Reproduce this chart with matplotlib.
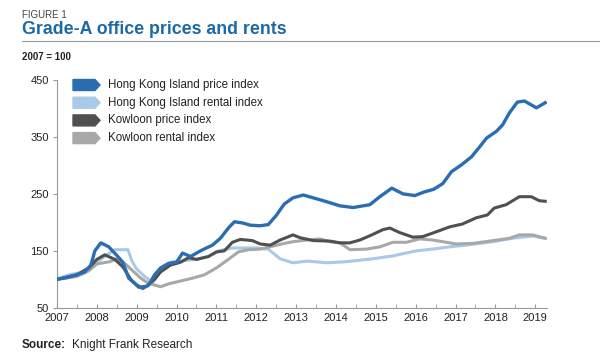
import matplotlib
matplotlib.use('Agg')
import matplotlib.pyplot as plt
from matplotlib.patches import Polygon
from matplotlib.ticker import MultipleLocator

plt.rcParams['font.family'] = ['Liberation Sans', 'DejaVu Sans']

# values (decimal year, index 2007 = 100)
hk_price_x = [2007.0, 2007.25, 2007.5, 2007.7, 2007.85, 2007.95, 2008.1, 2008.3, 2008.5, 2008.65,
              2008.8, 2009.0, 2009.15, 2009.3, 2009.45, 2009.6, 2009.8, 2010.0, 2010.15, 2010.35,
              2010.6, 2010.9, 2011.1, 2011.3, 2011.45, 2011.65, 2011.85, 2012.1, 2012.3, 2012.5,
              2012.7, 2012.92, 2013.18, 2013.43, 2013.68, 2014.1, 2014.43, 2014.85, 2015.1, 2015.4,
              2015.68, 2015.98, 2016.2, 2016.45, 2016.68, 2016.9, 2017.15, 2017.4, 2017.6, 2017.78,
              2018.03, 2018.18, 2018.35, 2018.55, 2018.73, 2019.03, 2019.25]
hk_price = [100, 103, 108, 113, 125, 150, 164, 157, 142, 130,
            102, 90, 84, 90, 108, 120, 128, 130, 146, 140,
            150, 160, 172, 190, 201, 199, 195, 194, 196, 212,
            232, 243, 248, 243, 238, 229, 226, 231, 245, 260,
            250, 247, 253, 258, 268, 289, 301, 315, 332, 348,
            360, 371, 392, 411, 413, 401, 410]

hk_rent_x = [2007.0, 2007.3, 2007.6, 2007.9, 2008.1, 2008.3, 2008.45, 2008.78, 2008.88, 2009.0,
             2009.2, 2009.4, 2009.6, 2009.85, 2010.2, 2010.5, 2010.8, 2011.05, 2011.4, 2011.7,
             2012.0, 2012.3, 2012.6, 2012.92, 2013.28, 2013.77, 2014.27, 2014.92, 2015.42, 2016.02,
             2016.42, 2016.85, 2017.27, 2017.93, 2018.43, 2018.93, 2019.25]
hk_rent = [100, 108, 112, 125, 135, 145, 152, 152, 132, 118,
           105, 95, 115, 130, 133, 135, 140, 150, 155, 155,
           155, 153, 136, 129, 132, 129, 131, 136, 141, 150,
           153, 157, 160, 166, 172, 176, 172]

kln_price_x = [2007.0, 2007.5, 2007.8, 2008.0, 2008.2, 2008.45, 2008.65, 2008.85, 2009.05, 2009.25,
               2009.45, 2009.6, 2009.85, 2010.1, 2010.3, 2010.5, 2010.8, 2011.0, 2011.2, 2011.4,
               2011.6, 2011.9, 2012.1, 2012.35, 2012.6, 2012.92, 2013.1, 2013.43, 2013.85, 2014.1,
               2014.35, 2014.6, 2014.9, 2015.17, 2015.35, 2015.6, 2015.93, 2016.18, 2016.5, 2016.85,
               2017.17, 2017.52, 2017.8, 2017.97, 2018.27, 2018.6, 2018.9, 2019.1, 2019.25]
kln_price = [100, 108, 120, 135, 143, 135, 122, 100, 86, 88,
             100, 113, 125, 130, 138, 135, 140, 148, 150, 165,
             170, 168, 162, 160, 169, 178, 173, 168, 167, 164,
             164, 169, 178, 187, 190, 182, 174, 175, 183, 192,
             197, 208, 213, 225, 231, 245, 245, 238, 237]

kln_rent_x = [2007.0, 2007.5, 2007.8, 2008.0, 2008.33, 2008.5, 2008.7, 2008.9, 2009.1, 2009.3,
              2009.6, 2009.8, 2010.1, 2010.4, 2010.7, 2011.0, 2011.3, 2011.55, 2011.8, 2012.1,
              2012.4, 2012.7, 2012.92, 2013.27, 2013.6, 2013.85, 2014.1, 2014.35, 2014.77, 2015.1,
              2015.43, 2015.77, 2016.1, 2016.42, 2016.77, 2017.02, 2017.43, 2017.85, 2018.35, 2018.6,
              2018.93, 2019.25]
kln_rent = [100, 105, 115, 127, 131, 136, 128, 115, 102, 93,
            87, 92, 97, 102, 108, 120, 135, 148, 152, 153,
            158, 163, 166, 169, 171, 166, 164, 152, 153, 157,
            165, 165, 171, 169, 165, 162, 163, 167, 172, 178,
            178, 172]

labels = ['Hong Kong Island price index', 'Hong Kong Island rental index',
          'Kowloon price index', 'Kowloon rental index']
colors = ['#2a6db3', '#a9c9e8', '#505050', '#a8a8a8']

fig = plt.figure(figsize=(6, 3.6), dpi=100)
ax = fig.add_axes([0.095, 0.145, 0.817, 0.633])

ax.plot(hk_rent_x, hk_rent, color=colors[1], lw=2.2, zorder=2)
ax.plot(kln_rent_x, kln_rent, color=colors[3], lw=2.2, zorder=3)
ax.plot(kln_price_x, kln_price, color=colors[2], lw=2.2, zorder=4)
ax.plot(hk_price_x, hk_price, color=colors[0], lw=2.4, zorder=5)

ax.set_xlim(2007, 2019.3)
ax.set_ylim(50, 450)
ax.set_yticks([50, 150, 250, 350, 450])
ax.set_xticks(range(2007, 2020))
ax.xaxis.set_minor_locator(MultipleLocator(0.5))
for s in ['top', 'right']:
    ax.spines[s].set_visible(False)
for s in ['left', 'bottom']:
    ax.spines[s].set_color('#999999')
    ax.spines[s].set_linewidth(0.8)
ax.tick_params(axis='y', length=3, color='#999999', labelsize=8, labelcolor='#222222', pad=3)
ax.tick_params(axis='x', which='both', direction='in', length=3, color='#999999',
               labelsize=8, labelcolor='#222222', pad=4)

# arrow-shaped legend keys
for i, (lab, c) in enumerate(zip(labels, colors)):
    yc = 1 - (85 + i * 17.7) / 360
    h = 5.5 / 360
    x0, x1, x2 = 73 / 600, 95 / 600, 100 / 600
    fig.patches.append(Polygon([[x0, yc - h], [x1, yc - h], [x2, yc], [x1, yc + h], [x0, yc + h]],
                               closed=True, color=c, transform=fig.transFigure))
    fig.text(108 / 600, yc, lab, fontsize=8.3, va='center', ha='left', color='#222222')

fig.text(22 / 600, 1 - 15 / 360, 'FIGURE 1', fontsize=7, color='#444444', va='center')
fig.text(22 / 600, 1 - 29 / 360, 'Grade-A office prices and rents', fontsize=12.8,
         fontweight='bold', color='#1b6aa5', va='center')
fig.add_artist(plt.Line2D([22 / 600, 1], [1 - 41 / 360, 1 - 41 / 360], color='#999999',
                          lw=0.8, transform=fig.transFigure))
fig.text(22 / 600, 1 - 57 / 360, '2007 = 100', fontsize=7, fontweight='bold', color='#222222',
         va='center')
fig.text(22 / 600, 1 - 345 / 360, 'Source:', fontsize=8.5, fontweight='bold',
         color='#222222', va='center')
fig.text(72 / 600, 1 - 345 / 360, 'Knight Frank Research', fontsize=8.5, color='#222222',
         va='center')

fig.savefig('out.png', dpi=100)
